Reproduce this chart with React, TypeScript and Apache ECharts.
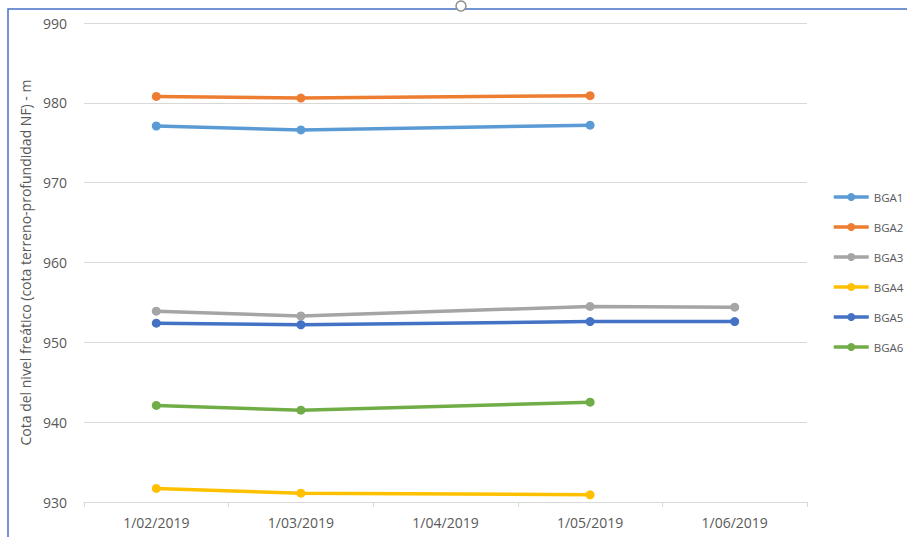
import React, { useEffect, useRef } from "react";
import * as echarts from "echarts";

const categories = ["1/02/2019", "1/03/2019", "1/04/2019", "1/05/2019", "1/06/2019"];
const seriesNames = ["BGA1", "BGA2", "BGA3", "BGA4", "BGA5", "BGA6"];
const bga1 = [977.1, 976.6, null, 977.2, null];
const bga2 = [980.8, 980.6, null, 980.9, null];
const bga3 = [953.9, 953.3, null, 954.5, 954.4];
const bga4 = [931.7, 931.1, null, 930.9, null];
const bga5 = [952.4, 952.2, null, 952.6, 952.6];
const bga6 = [942.1, 941.5, null, 942.5, null];
const seriesData = [bga1, bga2, bga3, bga4, bga5, bga6];
const colors = ["#5B9BD5", "#ED7D31", "#A5A5A5", "#FFC000", "#4472C4", "#70AD47"];
const yTitle = "Cota del nivel freático (cota terreno-profundidad NF) - m";

export default function App() {
  const ref = useRef<HTMLDivElement>(null);
  useEffect(() => {
    document.body.style.margin = "0";
    const chart = echarts.init(ref.current!, null, { renderer: "svg" });
    const font = "'Open Sans', 'Noto Sans', sans-serif";
    chart.setOption({
      animation: false,
      backgroundColor: "#fff",
      textStyle: { fontFamily: font },
      graphic: [
        {
          type: "rect",
          z: -10,
          shape: { x: 8, y: 9, width: 1000, height: 1000 },
          style: { fill: "none", stroke: "#4472C4", lineWidth: 1.5 },
        },
        {
          type: "circle",
          z: 10,
          shape: { cx: 461, cy: 6, r: 5 },
          style: { fill: "#fff", stroke: "#8E8E8E", lineWidth: 1.5 },
        },
      ],
      grid: { left: 84, right: 100, top: 23, bottom: 35 },
      legend: {
        orient: "vertical",
        left: 832,
        top: 191,
        padding: 0,
        itemWidth: 35,
        itemHeight: 10,
        itemGap: 18,
        lineStyle: { width: 3.5 },
        textStyle: { color: "#595959", fontSize: 11.5, fontFamily: font },
        data: seriesNames,
      },
      xAxis: {
        type: "category",
        data: categories,
        boundaryGap: true,
        axisLine: { lineStyle: { color: "#D9D9D9", width: 1 } },
        axisTick: { show: true, length: 5, lineStyle: { color: "#D9D9D9" } },
        axisLabel: { color: "#595959", fontSize: 14, margin: 13 },
      },
      yAxis: {
        type: "value",
        min: 930,
        max: 990,
        interval: 10,
        name: yTitle,
        nameLocation: "middle",
        nameGap: 51,
        nameTextStyle: { color: "#595959", fontSize: 14 },
        axisLine: { show: false },
        axisTick: { show: false },
        axisLabel: { color: "#595959", fontSize: 14, margin: 17 },
        splitLine: { lineStyle: { color: "#D9D9D9", width: 1 } },
      },
      series: seriesNames.map((n, i) => ({
        name: n,
        type: "line",
        data: seriesData[i],
        connectNulls: true,
        color: colors[i],
        symbol: "circle",
        symbolSize: 9,
        lineStyle: { width: 3.5 },
      })),
    });
    return () => chart.dispose();
  }, []);
  return <div ref={ref} style={{ width: 907, height: 537 }} />;
}
